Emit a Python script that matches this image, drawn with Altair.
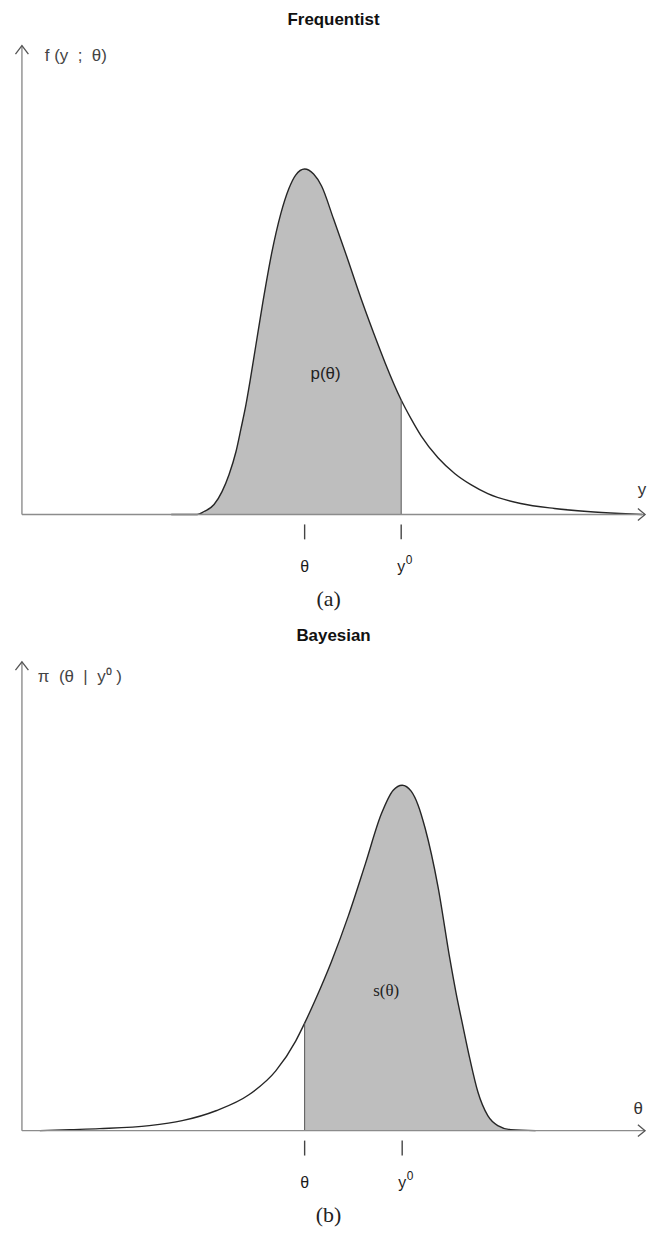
import altair as alt
import pandas as pd

# ---------------- data ----------------
# horizontal position (units from the vertical axis) and curve height (units above baseline)
freq_x = [150, 176, 183, 193, 201, 208, 215, 220, 225, 229, 235, 242, 251, 260, 268, 275, 284,
          293, 301, 313, 325, 341, 358, 365, 381, 391, 401, 418, 435, 451, 468, 501, 535, 568, 601, 623]
freq_h = [0, 0, 3, 10, 23, 40, 63, 86, 110, 133, 170, 213, 263, 302, 327, 341, 347,
          342, 330, 297, 263, 216, 170, 152, 115, 96, 79, 57, 41, 30, 21, 11, 6, 3, 1, 0]

bayes_x = [18, 48, 78, 128, 161, 195, 228, 255, 275, 284, 295, 311, 328, 345, 361, 373, 382,
           391, 398, 405, 418, 430, 436, 443, 450, 458, 468, 478, 491, 516]
bayes_h = [0, 1, 2, 5, 10, 20, 36, 60, 90, 108, 132, 170, 216, 268, 318, 342, 347,
           341, 327, 304, 245, 172, 139, 105, 72, 39, 15, 5, 1, 0]

freq_ticks = [284, 381]
bayes_ticks = [284, 382]
tick_labels = ["θ", "y"]
tick_sup = ["", "0"]

X_END = 626      # end of horizontal axis (arrow tip)
Y_END = 471      # end of vertical axis (arrow tip)

xsc = alt.Scale(domain=[-14, 640], nice=False, zero=False)
ysc = alt.Scale(domain=[-88, Y_END], nice=False, zero=False)

W, H = 654, 559
SANS = "Liberation Sans"
SERIF = "Liberation Serif"
NB = "\u00a0"


def X(field=None, datum=None):
    if datum is not None:
        return alt.X(datum=datum, type="quantitative", scale=xsc, axis=None)
    return alt.X(field, type="quantitative", scale=xsc, axis=None)


def Y(field=None, datum=None):
    if datum is not None:
        return alt.Y(datum=datum, type="quantitative", scale=ysc, axis=None)
    return alt.Y(field, type="quantitative", scale=ysc, axis=None)


def text(s, x, y, size=14, font=SANS, color="#333", weight="normal", align="center"):
    return alt.Chart(pd.DataFrame({"t": [s]})).mark_text(
        fontSize=size, font=font, color=color, fontWeight=weight, align=align, baseline="middle"
    ).encode(x=X(datum=x), y=Y(datum=y), text="t:N")


def panel(xs, hs, cut, keep, ticks, ylab, xname, region, region_pos, region_font, plabel, title):
    df = pd.DataFrame({"x": xs, "h": hs})
    base = alt.Chart(df)
    cond = f"datum.x <= {cut}" if keep == "left" else f"datum.x >= {cut}"
    area = base.transform_filter(cond).mark_area(
        color="#bebebe", interpolate="monotone", opacity=1
    ).encode(x=X("x"), y=Y("h"))
    line = base.mark_line(
        color="#262626", strokeWidth=1.4, interpolate="monotone"
    ).encode(x=X("x"), y=Y("h"))
    cutrule = base.transform_filter(f"datum.x == {cut}").mark_rule(
        color="#555", strokeWidth=1
    ).encode(x=X("x"), y=Y("h"), y2=alt.Y2(datum=0))

    ax_rule = alt.Chart(pd.DataFrame({"a": [0]}))
    hax = ax_rule.mark_rule(color="#8c8c8c", strokeWidth=1.4).encode(
        x=X(datum=0), x2=alt.X2(datum=X_END), y=Y(datum=0))
    vax = ax_rule.mark_rule(color="#8c8c8c", strokeWidth=1.4).encode(
        x=X(datum=0), y=Y(datum=0), y2=alt.Y2(datum=Y_END))
    up = ax_rule.mark_point(shape="M -1 1.3 L 0 0 L 1 1.3", size=169, filled=False,
                            color="#555", strokeWidth=1.3, opacity=1).encode(
        x=X(datum=0), y=Y(datum=Y_END))
    right = ax_rule.mark_point(shape="M -1.2 -1 L 0 0 L -1.2 1", size=144, filled=False,
                               color="#555", strokeWidth=1.3, opacity=1).encode(
        x=X(datum=X_END), y=Y(datum=0))

    tdf = pd.DataFrame({"x": ticks, "lab": tick_labels, "sup": tick_sup})
    tk = alt.Chart(tdf).mark_rule(color="#444", strokeWidth=1.4).encode(
        x=X("x"), y=Y(datum=-10), y2=alt.Y2(datum=-25))
    tl = alt.Chart(tdf).transform_calculate(
        shift="datum.sup == '' ? 0 : -4"
    ).mark_text(fontSize=16, font=SANS, color="#1a1a1a", baseline="middle").encode(
        x=X("x"), y=Y(datum=-53), text="lab:N", xOffset=alt.XOffset("shift:Q", scale=None))
    ts = alt.Chart(tdf).mark_text(fontSize=12, font=SANS, color="#1a1a1a", baseline="middle",
                                  dx=8, dy=-7).encode(
        x=X("x"), y=Y(datum=-53), text="sup:N")

    layers = [area, line, cutrule, hax, vax, up, right, tk, tl, ts,
              text(ylab[0], ylab[1], ylab[2], size=17, color="#444", align="left"),
              text(xname[0], xname[1], xname[2], size=17, color="#333"),
              text(region, region_pos[0], region_pos[1], size=17, font=region_font, color="#222"),
              text(plabel, 308, -85, size=22, font=SERIF, color="#222")]
    return alt.layer(*layers).properties(
        width=W, height=H,
        title=alt.TitleParams(title, fontSize=17, font=SANS, fontWeight="bold",
                              color="#111", anchor="middle", offset=14),
    )


a = panel(freq_x, freq_h, 381, "left", freq_ticks,
          (f"f{NB}(y{NB}{NB};{NB}{NB}θ)", 23, 461), ("y", 623, 25), "p(θ)", (305, 141), SANS,
          "(a)", "Frequentist")
b = panel(bayes_x, bayes_h, 284, "right", bayes_ticks,
          (f"π{NB}{NB}(θ{NB}{NB}|{NB}{NB}y⁰{NB})", 16, 456), ("θ", 619, 22), "s(θ)", (366, 140), SERIF,
          "(b)", "Bayesian")

chart = alt.vconcat(a, b, spacing=17, padding={"left": 0, "top": 0, "right": 0, "bottom": 0}
                    ).configure(background="white").configure_view(stroke=None)

chart.save("out.html", embed_options={"renderer": "svg", "actions": False})
